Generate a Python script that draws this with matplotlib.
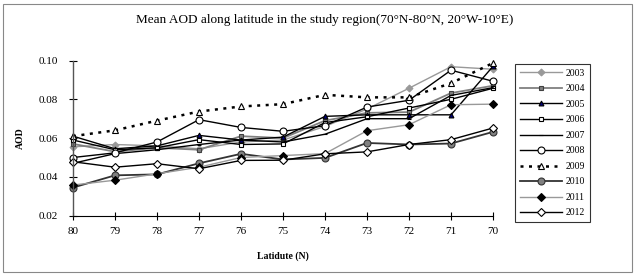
import matplotlib
matplotlib.use('Agg')
import matplotlib.pyplot as plt
from matplotlib.patches import Rectangle
import numpy as np

plt.rcParams['font.family'] = ['Liberation Serif', 'DejaVu Serif']

# Data
latitudes = ['80', '79', '78', '77', '76', '75', '74', '73', '72', '71', '70']
years = ['2003', '2004', '2005', '2006', '2007', '2008', '2009', '2010', '2011', '2012']
aod_2003 = [0.0555, 0.0567, 0.0560, 0.0545, 0.0580, 0.0590, 0.0660, 0.0750, 0.0857, 0.0968, 0.0955]
aod_2004 = [0.0570, 0.0530, 0.0550, 0.0540, 0.0610, 0.0600, 0.0690, 0.0730, 0.0734, 0.0832, 0.0870]
aod_2005 = [0.0610, 0.0545, 0.0560, 0.0614, 0.0590, 0.0605, 0.0712, 0.0720, 0.0720, 0.0720, 0.0970]
aod_2006 = [0.0590, 0.0540, 0.0550, 0.0592, 0.0567, 0.0570, 0.0680, 0.0710, 0.0755, 0.0800, 0.0857]
aod_2007 = [0.0470, 0.0520, 0.0540, 0.0567, 0.0590, 0.0580, 0.0620, 0.0700, 0.0700, 0.0820, 0.0860]
aod_2008 = [0.0500, 0.0524, 0.0580, 0.0695, 0.0655, 0.0635, 0.0664, 0.0760, 0.0795, 0.0950, 0.0893]
aod_2009 = [0.0610, 0.0640, 0.0690, 0.0737, 0.0763, 0.0775, 0.0823, 0.0810, 0.0810, 0.0883, 0.0987]
aod_2010 = [0.0345, 0.0408, 0.0413, 0.0470, 0.0519, 0.0490, 0.0498, 0.0575, 0.0567, 0.0572, 0.0632]
aod_2011 = [0.0358, 0.0383, 0.0416, 0.0450, 0.0500, 0.0510, 0.0520, 0.0638, 0.0669, 0.0772, 0.0775]
aod_2012 = [0.0478, 0.0450, 0.0468, 0.0442, 0.0485, 0.0486, 0.0519, 0.0529, 0.0567, 0.0592, 0.0652]
series = [aod_2003, aod_2004, aod_2005, aod_2006, aod_2007,
          aod_2008, aod_2009, aod_2010, aod_2011, aod_2012]

# (line colour, linestyle, linewidth, marker, marker size, face, edge)
styles = [
    ('#999999', '-', 1.0, 'D', 3.5, '#999999', '#999999'),
    ('#808080', '-', 1.3, 's', 3.0, '#808080', '#404040'),
    ('#000000', '-', 1.0, '^', 3.5, '#000080', '#000000'),
    ('#000000', '-', 1.0, 's', 3.0, 'white', '#000000'),
    ('#000000', '-', 1.0, '_', 3.5, '#000000', '#000000'),
    ('#000000', '-', 1.0, 'o', 5.0, 'white', '#000000'),
    ('#000000', (0, (1.2, 2.2)), 1.8, '^', 4.0, 'white', '#000000'),
    ('#333333', '-', 1.3, 'o', 5.0, '#808080', '#333333'),
    ('#999999', '-', 1.0, 'D', 4.0, '#000000', '#000000'),
    ('#000000', '-', 1.0, 'D', 4.0, 'white', '#000000'),
]

fig = plt.figure(figsize=(6.36, 2.75), dpi=100)
W, H = 636, 275
ax = fig.add_axes([73 / W, 1 - 215.7 / H, (493 - 73) / W, (215.7 - 60.5) / H])

x = np.arange(len(latitudes))
for yr, vals, st in zip(years, series, styles):
    c, ls, lw, m, ms, fc, ec = st
    ax.plot(x, vals, color=c, linestyle=ls, linewidth=lw, marker=m, markersize=ms,
            markerfacecolor=fc, markeredgecolor=ec, markeredgewidth=0.8, label=yr,
            clip_on=False)

ax.set_xlim(0, len(latitudes) - 1)
ax.set_ylim(0.02, 0.10)
ax.set_xticks(x)
ax.set_xticklabels(latitudes, fontsize=8)
ax.set_yticks([0.02, 0.04, 0.06, 0.08, 0.10])
ax.set_yticklabels(['0.02', '0.04', '0.06', '0.08', '0.10'], fontsize=8)
ax.tick_params(axis='both', direction='inout', length=6, width=0.8)
ax.tick_params(axis='y', pad=8)
ax.tick_params(axis='x', pad=5)
ax.spines['top'].set_visible(False)
ax.spines['right'].set_visible(False)
ax.spines['left'].set_color('#555555')
ax.spines['left'].set_linewidth(1.0)
ax.spines['bottom'].set_linewidth(0.8)

fig.text(20 / W, 1 - 138 / H, 'AOD', rotation=90, ha='center', va='center',
         fontsize=7, fontweight='bold')
fig.text(283 / W, 1 - 256 / H, 'Latidute (N)', ha='center', va='center',
         fontsize=7, fontweight='bold')
fig.text(325 / W, 1 - 20 / H,
         'Mean AOD along latitude in the study region(70°N-80°N, 20°W-10°E)',
         ha='center', va='center', fontsize=9.5)

leg = fig.legend(loc='upper left', bbox_to_anchor=(515 / W, 1 - 64 / H),
                 fontsize=7, frameon=True, fancybox=False, handlelength=4.3,
                 labelspacing=0.67, borderpad=0.5, handletextpad=0.4,
                 borderaxespad=0)
leg.get_frame().set_edgecolor('black')
leg.get_frame().set_linewidth(0.8)

fig.patches.append(Rectangle((3 / W, 3 / H), 629 / W, 268 / H, transform=fig.transFigure,
                             fill=False, edgecolor='#888888', linewidth=0.8))

fig.savefig('out.png', dpi=100)
